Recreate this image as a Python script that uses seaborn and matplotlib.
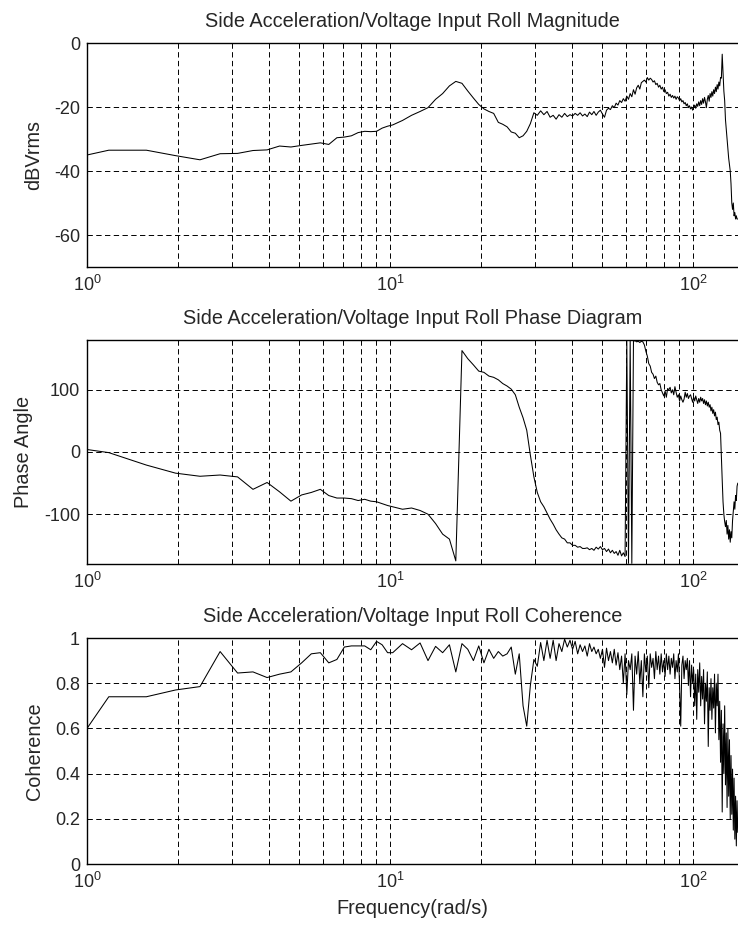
import matplotlib
matplotlib.use("Agg")
import pandas as pd
import seaborn as sns
import matplotlib.pyplot as plt
from matplotlib.ticker import FormatStrFormatter, NullFormatter

# frequency points (rad/s)
freq = [
    1.0, 1.18, 1.57, 1.96, 2.36, 2.75, 3.14, 3.53, 3.93, 4.32, 4.71, 5.11,
    5.50, 5.89, 6.28, 6.68, 7.07, 7.46, 7.85, 8.25, 8.64, 9.03, 9.42, 9.82,
    10.21, 11.00, 11.78, 12.57, 13.35, 14.14, 14.92, 15.71, 16.49, 17.28,
    18.06, 18.85, 19.63, 20.42, 21.21, 21.99, 22.78, 23.56, 24.35, 25.13,
    25.92, 26.70, 27.49, 28.27, 29.06, 29.85, 30.63, 31.42, 32.20, 32.99,
    33.77, 34.56, 35.34, 36.13, 36.91, 37.70, 38.48, 39.27, 40.06, 40.84,
    41.63, 42.41, 43.20, 43.98, 44.77, 45.55, 46.34, 47.12, 47.91, 48.69,
    49.48, 50.27, 51.05, 51.84, 52.62, 53.41, 54.19, 54.98, 55.76, 56.55,
    57.33, 58.12, 58.90, 59.69, 60.48, 61.26, 62.05, 62.83, 63.62, 64.40,
    65.19, 65.97, 66.76, 67.54, 68.33, 69.12, 69.90, 70.69, 71.47, 72.26,
    73.04, 73.83, 74.61, 75.40, 76.18, 76.97, 77.75, 78.54, 79.33, 80.11,
    80.90, 81.68, 82.47, 83.25, 84.04, 84.82, 85.61, 86.39, 87.18, 87.96,
    88.75, 89.54, 90.32, 91.11, 91.89, 92.68, 93.46, 94.25, 95.03, 95.82,
    96.60, 97.39, 98.17, 98.96, 99.75, 100.53, 101.32, 102.10, 102.89, 103.67,
    104.46, 105.24, 106.03, 106.81, 107.60, 108.38, 109.17, 109.96, 110.74, 111.53,
    112.31, 113.10, 113.88, 114.67, 115.45, 116.24, 117.02, 117.81, 118.60, 119.38,
    120.17, 120.95, 121.74, 122.52, 123.31, 124.09, 124.88, 125.66, 126.45, 127.23,
    128.02, 128.81, 129.59, 130.38, 131.16, 131.95, 132.73, 133.52, 134.30, 135.09,
    135.87, 136.66, 137.44, 138.23, 139.02, 139.80, 140.59,
]

# magnitude in dBVrms
magnitude = [
    -35.0, -33.5, -33.5, -35.2, -36.5, -34.6, -34.5, -33.6, -33.4, -32.2, -32.5, -32.0,
    -31.6, -31.2, -31.7, -29.6, -29.4, -29.0, -28.0, -27.6, -27.7, -27.6, -26.6, -26.0,
    -25.6, -24.2, -22.6, -21.4, -20.2, -17.6, -15.8, -13.4, -12.0, -12.6,
    -15.0, -17.2, -19.2, -20.6, -21.4, -22.0, -24.8, -25.4, -26.2, -27.8,
    -28.2, -29.6, -29.0, -27.6, -25.2, -21.8, -22.6, -21.2, -22.4, -21.4,
    -23.2, -22.6, -23.8, -22.4, -23.2, -22.0, -23.0, -22.4, -22.8, -22.0,
    -22.6, -21.8, -22.8, -22.2, -23.0, -21.6, -22.4, -21.4, -22.6, -21.6,
    -21.0, -22.2, -23.2, -21.0, -20.4, -20.8, -19.6, -20.2, -18.8, -19.4,
    -18.0, -18.6, -17.4, -18.2, -16.6, -17.6, -15.8, -16.8, -14.6, -16.0,
    -14.0, -13.2, -14.4, -12.4, -12.0, -11.6, -12.2, -10.8, -11.6, -11.0,
    -11.4, -12.2, -11.8, -13.0, -12.6, -13.8, -13.2, -14.4, -13.8, -15.2,
    -14.6, -15.8, -15.4, -16.6, -16.0, -17.0, -16.4, -17.2, -16.6, -17.6,
    -16.8, -17.2, -18.0, -17.4, -18.4, -18.0, -19.0, -18.6, -19.6, -19.0,
    -20.2, -19.6, -20.6, -20.0, -21.0, -20.2, -19.4, -20.4, -19.0, -19.8,
    -18.4, -19.6, -18.0, -19.2, -17.4, -18.8, -17.0, -18.4, -20.2, -17.6,
    -16.4, -18.2, -15.8, -17.0, -15.2, -16.6, -14.6, -15.8, -13.8, -15.2,
    -13.0, -14.4, -12.2, -13.4, -10.8, -11.0, -3.5, -9.0, -15.0, -18.0,
    -24.0, -27.0, -30.0, -33.0, -36.0, -38.0, -40.0, -44.0, -50.0, -52.0,
    -50.0, -54.0, -53.0, -55.0, -54.0, -55.0, -55.0,
]

# phase angle in degrees
phase = [
    4, -1, -21, -34, -39, -37, -40, -60, -49, -64, -79, -69,
    -65, -60, -70, -74, -74, -75, -78, -76, -79, -80, -83, -86,
    -88, -92, -90, -94, -100, -115, -132, -140, -175, 163,
    150, 140, 130, 128, 122, 120, 116, 110, 106, 101,
    92, 72, 55, 35, -5, -40, -65, -80, -88, -98,
    -108, -116, -125, -132, -138, -140, -146, -146, -150, -150,
    -153, -152, -155, -155, -154, -157, -155, -158, -153, -156,
    -152, -157, -155, -160, -156, -162, -158, -163, -160, -166,
    -158, -167, -162, -168, 179, -179, 179, -179, 178, 179,
    177, 178, 176, 178, 177, 172, 162, 154, 142, 138,
    128, 125, 118, 122, 112, 108, 110, 100, 95, 90,
    98, 88, 102, 100, 104, 95, 100, 92, 105, 96,
    88, 92, 82, 90, 84, 80, 85, 96, 88, 94,
    86, 90, 92, 86, 80, 88, 82, 90, 84, 78,
    86, 80, 88, 82, 86, 78, 84, 76, 82, 74,
    80, 72, 76, 66, 72, 62, 68, 58, 64, 52,
    56, 44, 48, 35, 30, -10, -45, -80, -100, -112,
    -120, -110, -132, -118, -140, -125, -145, -128, -138, -110,
    -95, -80, -92, -70, -78, -55, -50,
]

# coherence
coherence = [
    0.60, 0.74, 0.74, 0.77, 0.785, 0.94, 0.845, 0.85, 0.825, 0.84, 0.85, 0.89,
    0.93, 0.935, 0.89, 0.905, 0.96, 0.965, 0.965, 0.965, 0.948, 0.985, 0.97, 0.935,
    0.935, 0.975, 0.948, 0.978, 0.90, 0.963, 0.935, 0.97, 0.85, 0.975,
    0.95, 0.90, 0.965, 0.89, 0.95, 0.91, 0.94, 0.92, 0.93, 0.96,
    0.84, 0.93, 0.70, 0.61, 0.79, 0.905, 0.875, 0.98, 0.90, 0.99,
    0.91, 0.99, 0.90, 0.975, 0.94, 0.995, 0.96, 0.99, 0.95, 0.985,
    0.93, 0.97, 0.94, 0.965, 0.92, 0.975, 0.94, 0.96, 0.93, 0.95,
    0.91, 0.95, 0.87, 0.955, 0.90, 0.94, 0.89, 0.95, 0.88, 0.935,
    0.86, 0.92, 0.80, 0.93, 0.75, 0.90, 0.86, 0.93, 0.68, 0.92,
    0.84, 0.94, 0.80, 0.90, 0.74, 0.93, 0.85, 0.92, 0.78, 0.93,
    0.87, 0.91, 0.82, 0.94, 0.86, 0.92, 0.84, 0.93, 0.85, 0.90,
    0.83, 0.93, 0.86, 0.92, 0.84, 0.91, 0.87, 0.93, 0.82, 0.90,
    0.85, 0.93, 0.79, 0.61, 0.88, 0.92, 0.82, 0.90, 0.86, 0.91,
    0.79, 0.90, 0.74, 0.88, 0.80, 0.86, 0.70, 0.84, 0.64, 0.86,
    0.76, 0.89, 0.70, 0.83, 0.73, 0.86, 0.62, 0.80, 0.72, 0.85,
    0.52, 0.78, 0.68, 0.82, 0.64, 0.78, 0.69, 0.84, 0.58, 0.80,
    0.70, 0.84, 0.55, 0.72, 0.45, 0.68, 0.23, 0.62, 0.40, 0.70,
    0.35, 0.58, 0.25, 0.60, 0.30, 0.55, 0.20, 0.48, 0.22, 0.42,
    0.15, 0.38, 0.11, 0.30, 0.08, 0.28, 0.14,
]

df = pd.DataFrame({"freq": freq, "mag": magnitude, "phase": phase, "coh": coherence})

sns.set_style("white")
plt.rcParams["font.family"] = ["Liberation Sans", "DejaVu Sans"]
plt.rcParams["mathtext.fontset"] = "custom"
plt.rcParams["mathtext.rm"] = "Liberation Sans"
plt.rcParams["xtick.direction"] = "in"
plt.rcParams["ytick.direction"] = "in"

FS = 13        # tick labels
FS_LABEL = 14.3  # titles and axis labels are a bit larger

fig = plt.figure(figsize=(7.38, 9.3), dpi=100)

# panel boxes in figure fractions (left, bottom, width, height)
boxes = [
    (87 / 738, 1 - 267 / 930, 651 / 738, 224 / 930),
    (87 / 738, 1 - 564 / 930, 651 / 738, 224 / 930),
    (87 / 738, 1 - 864 / 930, 651 / 738, 226 / 930),
]
panels = [
    ("mag", "Side Acceleration/Voltage Input Roll Magnitude", "dBVrms", (-70, 0), [0, -20, -40, -60]),
    ("phase", "Side Acceleration/Voltage Input Roll Phase Diagram", "Phase Angle", (-180, 180), [-100, 0, 100]),
    ("coh", "Side Acceleration/Voltage Input Roll Coherence", "Coherence", (0, 1), [0, 0.2, 0.4, 0.6, 0.8, 1]),
]

grid_kw = dict(color="black", linestyle=(0, (5.5, 3.5)), linewidth=0.7)

for box, (col, title, ylabel, ylim, yticks) in zip(boxes, panels):
    ax = fig.add_axes(box)
    sns.lineplot(data=df, x="freq", y=col, ax=ax, color="black", linewidth=0.75, sort=False)
    ax.set_xscale("log")
    ax.set_xlim(1, 140.8)
    ax.set_ylim(*ylim)
    ax.set_yticks(yticks)
    ax.yaxis.set_major_formatter(FormatStrFormatter("%g"))
    ax.xaxis.set_minor_formatter(NullFormatter())
    ax.set_axisbelow(True)
    ax.grid(True, which="both", axis="x", **grid_kw)
    ax.grid(True, which="major", axis="y", **grid_kw)
    ax.set_title(title, fontsize=FS_LABEL, pad=11.5)
    ax.set_ylabel(ylabel, fontsize=FS_LABEL, labelpad=8)
    ax.set_xlabel("")
    ax.tick_params(axis="both", which="both", direction="in", color="black", labelsize=FS)
    ax.tick_params(axis="x", which="major", length=5, pad=6)
    ax.tick_params(axis="x", which="minor", length=3)
    ax.tick_params(axis="y", which="major", length=5, pad=5)
    ax.spines["right"].set_visible(False)
    for side in ("left", "top", "bottom"):
        ax.spines[side].set_color("black")
        ax.spines[side].set_linewidth(1.0)

ax.set_xlabel("Frequency(rad/s)", fontsize=FS_LABEL, labelpad=5)

plt.savefig("out.png", dpi=100)
